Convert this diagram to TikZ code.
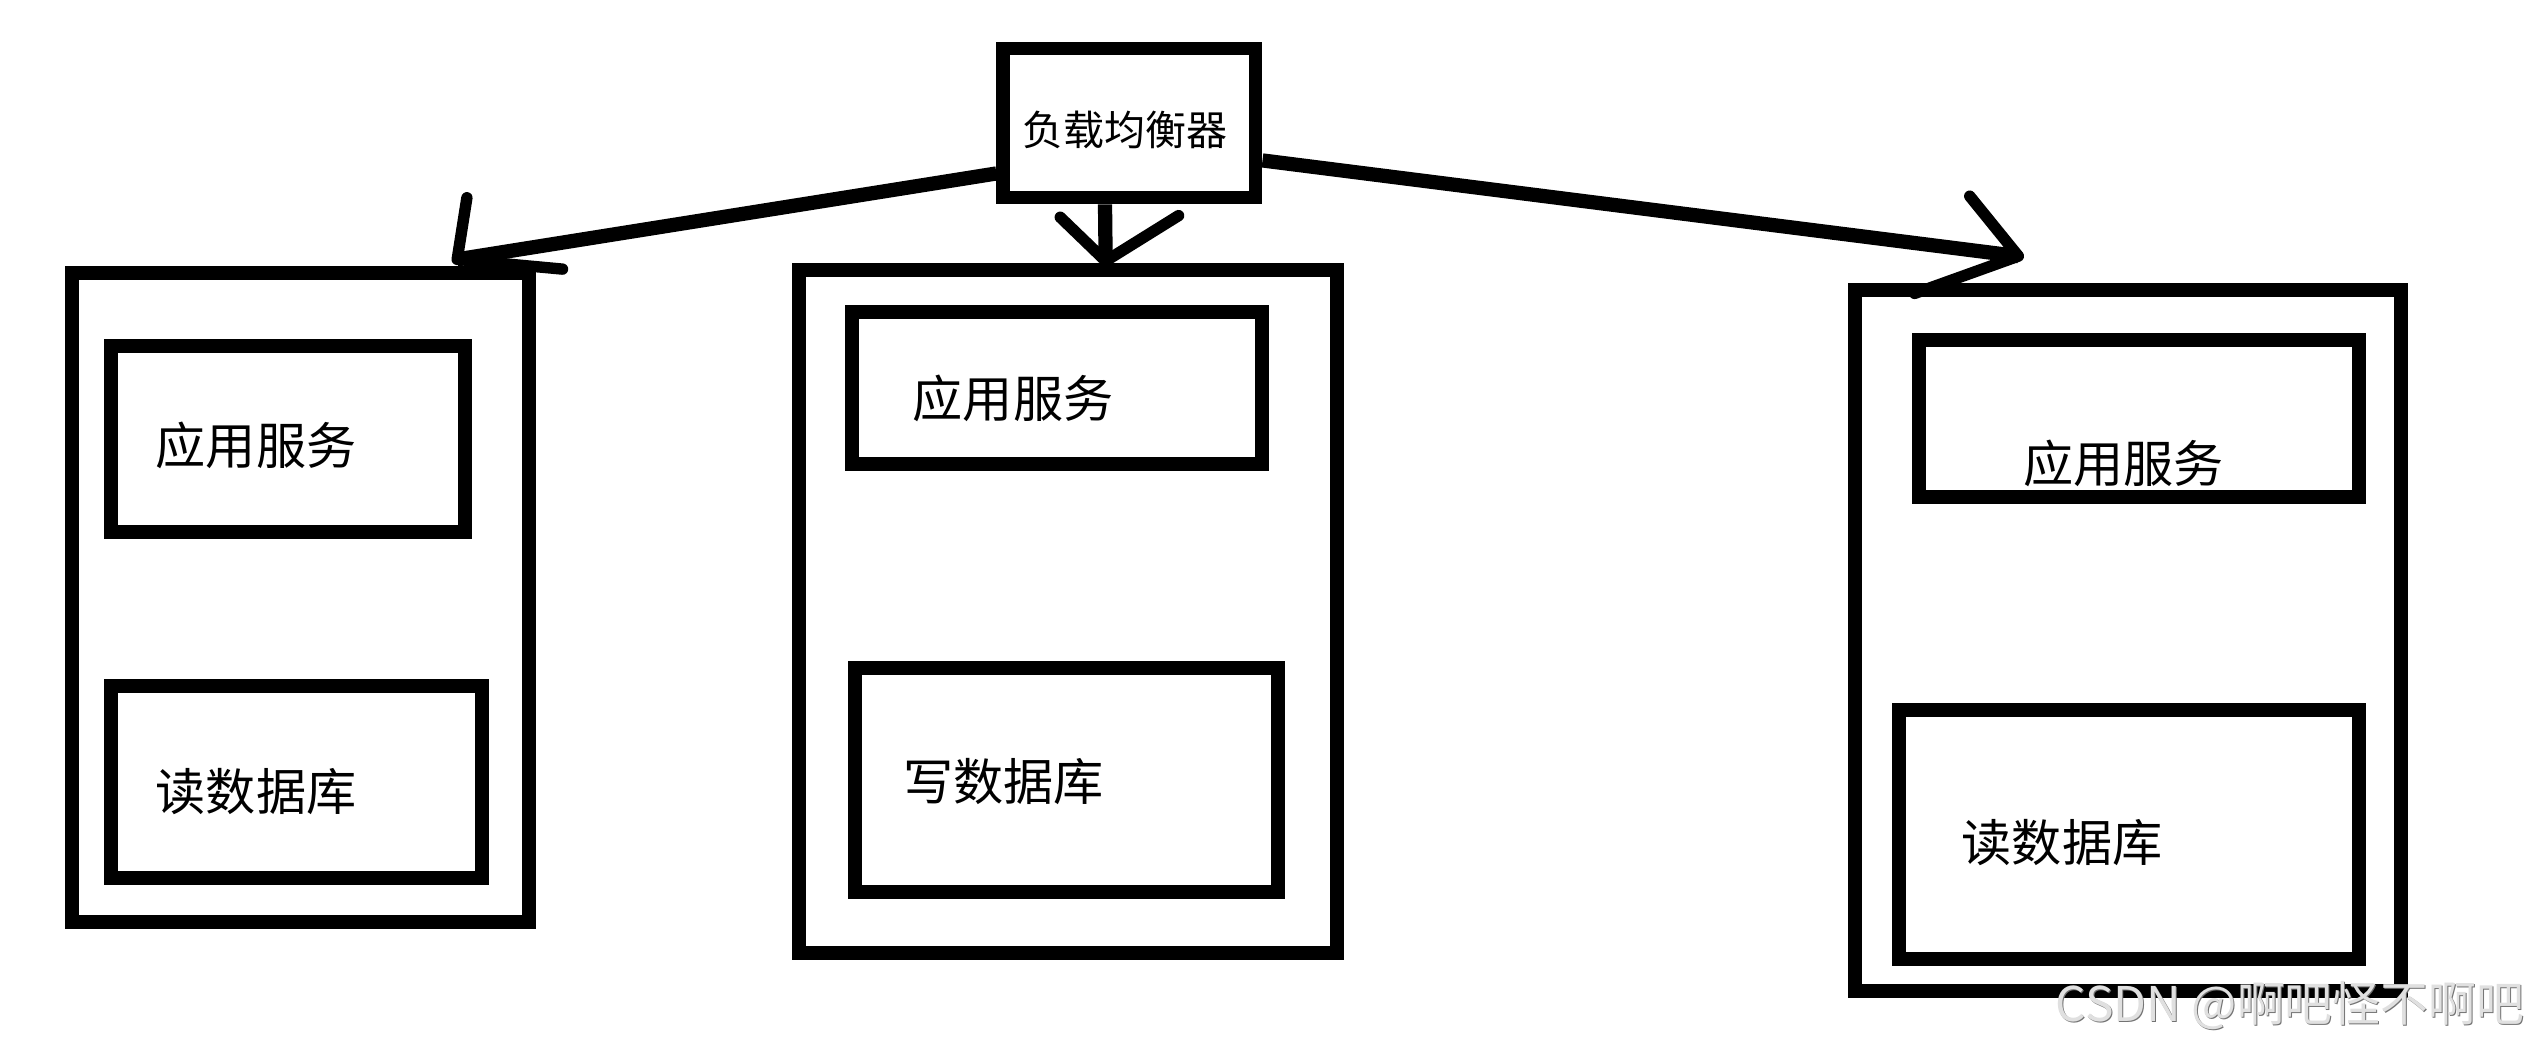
\documentclass[tikz,border=0pt]{standalone}
\usepackage{fontspec}
\newfontfamily\cjk{Noto Sans CJK SC}
\usetikzlibrary{calc}
\begin{document}
\begin{tikzpicture}[x=0.1cm,y=-0.1cm,
  box/.style={draw=black, line width=24.5pt, inner sep=0pt},
  lbl/.style={font=\cjk\fontsize{88}{100}\selectfont, inner sep=0pt, anchor=west},
  conn/.style={line width=25pt},
  head/.style={line width=20pt, line cap=round, line join=round}]
\useasboundingbox (0,0) rectangle (1568,645);
% load balancer
\node[box, line width=23pt, minimum width=15.6cm, minimum height=9.22cm] (lb) at (696.7,75.9) {};
\node[font=\cjk\fontsize{72}{80}\selectfont, inner sep=0pt] (lbt) at (694,80) {负载均衡器};
% left server
\node[box, minimum width=28.18cm, minimum height=40.05cm] (lo) at (185.2,368.45) {};
\node[box, minimum width=21.81cm, minimum height=11.48cm] (lt) at (177.5,270.8) {};
\node[box, minimum width=22.88cm, minimum height=11.86cm] (lbx) at (182.9,482.3) {};
\node[lbl] (ltt) at (96,275) {应用服务};
\node[lbl] (lbxt) at (96,488) {读数据库};
% middle server
\node[box, minimum width=33.18cm, minimum height=42.11cm] (mo) at (658.8,377.25) {};
\node[box, minimum width=25.29cm, minimum height=9.34cm] (mt) at (651.95,239.3) {};
\node[box, minimum width=26.07cm, minimum height=13.81cm] (mb) at (657.95,481.15) {};
\node[lbl] (mtt) at (563,246) {应用服务};
\node[lbl] (mbt) at (557,482) {写数据库};
% right server
\node[box, minimum width=33.71cm, minimum height=43.24cm] (ro) at (1312.55,395.1) {};
\node[box, minimum width=27.13cm, minimum height=9.68cm] (rt) at (1319.25,258.1) {};
\node[box, minimum width=28.35cm, minimum height=15.36cm] (rb) at (1313.15,514.8) {};
\node[lbl] (rtt) at (1248,286) {应用服务};
\node[lbl] (rbt) at (1210,520) {读数据库};
% arrow tips and head ends
\coordinate (tipL) at (282,160);
\coordinate (hL1) at (288,122);
\coordinate (hL2) at (347,166);
\coordinate (tipM) at (682,161);
\coordinate (hM1) at (654,134);
\coordinate (hM2) at (727,133);
\coordinate (tipR) at (1245,158);
\coordinate (hR1) at (1215,121);
\coordinate (hR2) at (1181,181);
% connectors
\draw[conn] ($(lb.north west)!0.81!(lb.south west)$) -- (tipL);
\draw[head] (hL1) -- (tipL) -- (hL2);
\draw[conn] ($(lb.south west)!0.408!(lb.south east)$) -- (tipM);
\draw[head] (hM1) -- (tipM) -- (hM2);
\draw[conn] ($(lb.north east)!0.73!(lb.south east)$) -- (tipR);
\draw[head] (hR1) -- (tipR) -- (hR2);
% watermark
\node[font=\cjk\fontsize{84}{90}\selectfont, text=black!55, inner sep=0pt, anchor=west] (wms) at (1268.6,620.6) {CSDN @啊吧怪不啊吧};
\node[font=\cjk\fontsize{84}{90}\selectfont, text=black!12, inner sep=0pt, anchor=west] (wm) at (1268,620) {CSDN @啊吧怪不啊吧};
\end{tikzpicture}
\end{document}
